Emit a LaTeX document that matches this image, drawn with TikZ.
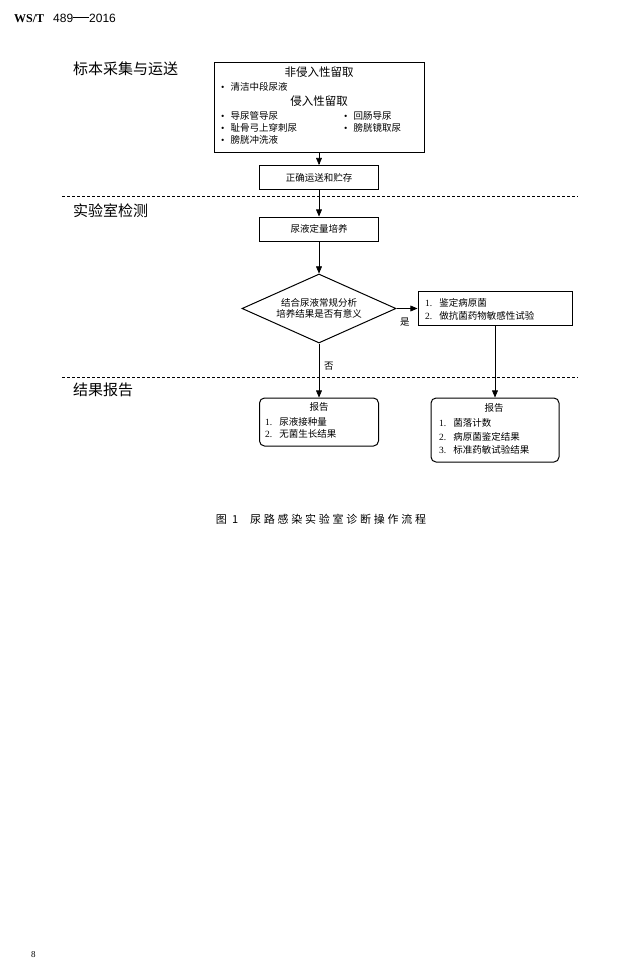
\documentclass[tikz,border=0pt]{standalone}
\usepackage{fontspec}
\setmainfont{Liberation Serif}
\setsansfont{Liberation Sans}
\newfontfamily\cjk{Noto Sans CJK SC}
\newfontfamily\capfont[LetterSpace=25]{Noto Sans CJK SC}
\usetikzlibrary{arrows,shapes.geometric}
\newcommand{\itm}[1]{{\rmfamily #1.}\hspace{7pt}}
\newcommand{\bul}{{\rmfamily\textbullet}\hspace{6pt}}
\tikzset{
  box/.style={draw, line width=1pt, minimum width=119pt, minimum height=24pt, inner sep=0pt,
    font=\cjk\fontsize{9.5}{11}\selectfont},
  rbox/.style={box, rounded corners=5pt},
  dia/.style={draw, diamond, aspect=2.23, line width=1pt, minimum width=154pt, minimum height=69pt,
    inner sep=0pt, align=center, font=\cjk\fontsize{9.5}{11}\selectfont},
  sect/.style={anchor=west, inner sep=0pt, font=\cjk\fontsize{15}{18}\selectfont},
  txt/.style={anchor=west, inner sep=0pt, font=\cjk\fontsize{9.5}{11}\selectfont},
  head/.style={inner sep=0pt, font=\cjk\fontsize{11.5}{14}\selectfont},
  sep/.style={dash pattern=on 3pt off 2pt, line width=0.6pt},
  flow/.style={->, line width=0.6pt}
}
\begin{document}
\begin{tikzpicture}[x=1pt,y=-1pt,>=triangle 45]
\useasboundingbox[fill=white] (0,0) rectangle (640,977);
% page head and foot
\node[anchor=west, inner sep=0pt] (code) at (14,18) {\fontsize{12}{14}\selectfont\textbf{WS/T}\hspace{9pt}\sffamily 489\rule[3.6pt]{16pt}{1pt}2016};
\node[anchor=west, inner sep=0pt, font=\fontsize{9}{10}\selectfont] (page) at (31,955) {8};
% sections
\node[sect] (s1) at (73,69) {标本采集与运送};
\node[sect] (s2) at (73,211) {实验室检测};
\node[sect] (s3) at (73,390) {结果报告};
\draw[sep] (62,196) -- (578,196);
\draw[sep] (62,377) -- (578,377);
% specimen collection
\node[box, minimum width=210pt, minimum height=90pt] (sample) at (319,107) {};
\node[head] (noninv) at (319,72) {非侵入性留取};
\node[txt] (b1) at (221,87) {\bul 清洁中段尿液};
\node[head] (inv) at (319,101) {侵入性留取};
\node[txt] (b2) at (221,116) {\bul 导尿管导尿};
\node[txt] (b3) at (221,128) {\bul 耻骨弓上穿刺尿};
\node[txt] (b4) at (221,140) {\bul 膀胱冲洗液};
\node[txt] (b5) at (344,116) {\bul 回肠导尿};
\node[txt] (b6) at (344,128) {\bul 膀胱镜取尿};
\node[box] (transport) at (319,177.5) {正确运送和贮存};
% laboratory
\node[box] (culture) at (319,229) {尿液定量培养};
\node[dia] (judge) at (319,308.5) {结合尿液常规分析\\培养结果是否有意义};
\node[box, minimum width=154pt, minimum height=34pt] (ident) at (495,308.5) {};
\node[txt] (i1) at (425,303) {\itm{1}鉴定病原菌};
\node[txt] (i2) at (425,316) {\itm{2}做抗菌药物敏感性试验};
\node[txt] (yes) at (400,322) {是};
\node[txt] (no) at (324,366) {否};
% reports
\node[rbox, minimum height=48pt] (rep1) at (319,422) {};
\node[txt, anchor=center] (r1t) at (319,407) {报告};
\node[txt] (r11) at (265,422) {\itm{1}尿液接种量};
\node[txt] (r12) at (265,434) {\itm{2}无菌生长结果};
\node[rbox, minimum width=128pt, minimum height=64pt] (rep2) at (495,430) {};
\node[txt, anchor=center] (r2t) at (494,408) {报告};
\node[txt] (r21) at (439,423) {\itm{1}菌落计数};
\node[txt] (r22) at (439,437) {\itm{2}病原菌鉴定结果};
\node[txt] (r23) at (439,450) {\itm{3}标准药敏试验结果};
% connectors
\draw[flow] (sample) -- (transport);
\draw[flow] (transport) -- (culture);
\draw[flow] (culture) -- (judge);
\draw[flow] (judge) -- (ident);
\draw[flow] (judge) -- (rep1);
\draw[flow] (ident) -- (rep2);
% caption
\node[inner sep=0pt, font=\capfont\fontsize{11}{13}\selectfont] (cap) at (321,519) {图 1\hspace{12pt}尿路感染实验室诊断操作流程};
\end{tikzpicture}
\end{document}
